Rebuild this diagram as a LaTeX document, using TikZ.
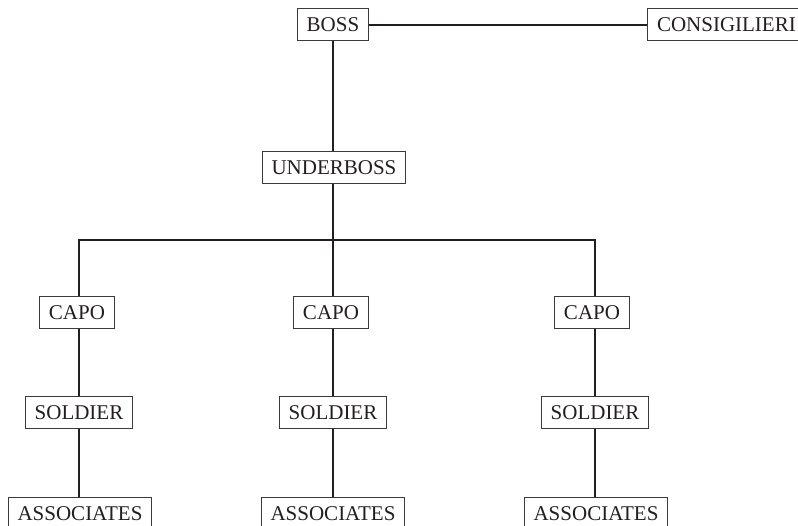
\documentclass[tikz,border=0pt]{standalone}
\usepackage{fontspec}
\setmainfont{Liberation Serif}
\usepackage{tikz}
\usetikzlibrary{positioning,calc}

\definecolor{inkline}{HTML}{231F20}
\definecolor{boxline}{HTML}{3A3A3A}

\begin{document}
\begin{tikzpicture}[x=1pt, y=-1pt,
    rank/.style={draw=boxline, line width=1pt, fill=white, minimum height=32pt,
        inner xsep=9.5pt, inner ysep=0pt, font=\fontsize{21}{24}\selectfont, text=inkline},
    link/.style={draw=inkline, line width=2.8pt}]
    \useasboundingbox (0,0) rectangle (798,526);
    \clip (0,0) rectangle (798,526);
    % top of the family
    \node[rank] (boss) at (333,25) {BOSS};
    \node[rank, anchor=west] (consig) at (647,25) {CONSIGILIERI};
    \node[rank] (under) at (334,168) {UNDERBOSS};
    \coordinate (bar) at (333,240);
    % the three crews
    \node[rank] (capoA) at (77,313) {CAPO};
    \node[rank] (capoB) at (331,313) {CAPO};
    \node[rank] (capoC) at (592,313) {CAPO};
    \node[rank] (soldA) at (79,413) {SOLDIER};
    \node[rank] (soldB) at (333,413) {SOLDIER};
    \node[rank] (soldC) at (595,413) {SOLDIER};
    \node[rank, anchor=north] (assocA) at (80,497) {ASSOCIATES};
    \node[rank, anchor=north] (assocB) at (333,497) {ASSOCIATES};
    \node[rank, anchor=north] (assocC) at (596,497) {ASSOCIATES};
    % connectors
    \draw[link] (boss.east) -- (consig.west);
    \draw[link] (boss.south) -- (boss.south |- under.north);
    \draw[link] (bar |- under.south) -- (bar);
    \draw[link] (capoA.north -| soldA) |- (bar) -| (capoC.north -| soldC);
    \draw[link] (bar) -- (capoB.north -| soldB);
    \foreach \c in {A,B,C} {
        \draw[link] (capo\c.south -| sold\c) -- (sold\c.north);
        \draw[link] (sold\c.south) -- (assoc\c.north -| sold\c);
    }
\end{tikzpicture}
\end{document}
